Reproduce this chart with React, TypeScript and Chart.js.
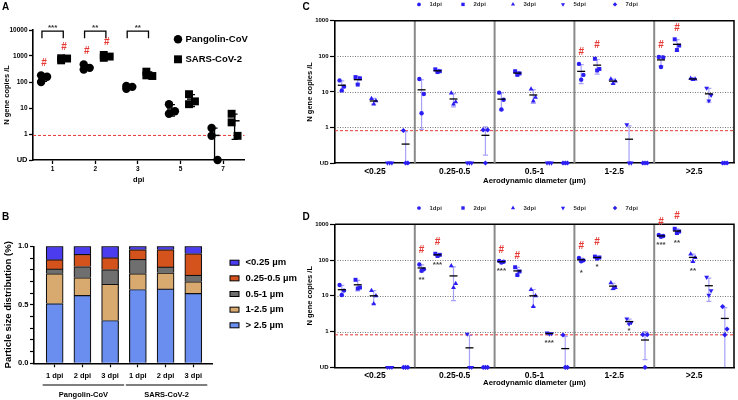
import React, { useEffect, useRef } from 'react';
import { Chart, registerables } from 'chart.js';
import { drawPoint } from 'chart.js/helpers';

Chart.register(...registerables);

const FONT = '"Liberation Sans", Arial, Helvetica, sans-serif';
Chart.defaults.font.family = FONT;
Chart.defaults.color = '#000';

const UD = 0.1; // "UD" (undetected) plotted at the axis floor

// ---------------- Panel A ----------------
const dpiA = ['1', '2', '3', '5', '7'];
const seriesNamesA = ['Pangolin-CoV', 'SARS-CoV-2'];
const pangolinA = [[180, 100, 160], [470, 300, 350], [55, 70, 65], [14, 6, 7.5], [1.7, 0.85, UD]];
const sarsA = [[680, 820, 800], [850, 1100, 950], [250, 180, 170], [34, 14, 18], [6, 2.8, 0.85]];
const yTicksA = [UD, 1, 10, 100, 1000, 10000];
const lodA = 0.88;
const hashA = [
  { cat: 0, s: 0, v: 550 },
  { cat: 0, s: 1, v: 2240 },
  { cat: 1, s: 0, v: 1590 },
  { cat: 1, s: 1, v: 3800 },
];
const sigA = [
  { cat: 0, text: '***' },
  { cat: 1, text: '**' },
  { cat: 2, text: '**' },
];
const sigLevelA = 9000;

// ---------------- Panel B ----------------
const barLabelsB = ['1 dpi', '2 dpi', '3 dpi', '1 dpi', '2 dpi', '3 dpi'];
const groupLabelsB = ['Pangolin-CoV', 'SARS-CoV-2'];
const segLabelsB = ['<0.25 µm', '0.25-0.5 µm', '0.5-1 µm', '1-2.5 µm', '> 2.5 µm'];
const segColorsB = ['#4b3cf0', '#d4531d', '#6f6f6f', '#d9aa70', '#6a8ef0'];
const segLt025 = [0.114, 0.068, 0.097, 0.028, 0.028, 0.062];
const seg025to05 = [0.079, 0.105, 0.102, 0.083, 0.148, 0.185];
const seg05to1 = [0.040, 0.094, 0.125, 0.122, 0.051, 0.054];
const seg1to25 = [0.256, 0.153, 0.310, 0.136, 0.137, 0.102];
const segGt25 = [0.511, 0.580, 0.366, 0.631, 0.636, 0.597];
const yMajorB = [0, 0.5, 1];

// ---------------- Panels C & D ----------------
const sizeGroups = ['<0.25', '0.25-0.5', '0.5-1', '1-2.5', '>2.5'];
const dpiSeries = ['1dpi', '2dpi', '3dpi', '5dpi', '7dpi'];
const yTicksCD = [UD, 1, 10, 100, 1000];
const refLinesCD = [1, 10, 100];
const lodCD = 0.81;

// C: [size group][replicate]
const c1dpi = [[21, 14, 11], [23, 8.7, 2.5], [9.5, 6, 3.2], [61, 30, 22], [95, 92, 50]];
const c2dpi = [[26, 24, 16], [43, 38, 36], [38, 33, 30], [85, 44, 40], [300, 200, 150]];
const c3dpi = [[6.5, 5.6, 4.5], [9.2, 5.2, 4.5], [12, 7, 5.5], [23, 20, 17], [24, 23, 22]];
const c5dpi = [[UD, UD, UD], [UD, UD, UD], [UD, UD, UD], [1.2, UD, UD], [12.8, 8, 5.6]];
const c7dpi = [[0.82, UD, UD], [0.85, 0.85, UD], [UD, UD, UD], [UD, UD, UD], [UD, UD, UD]];
const hashC = [
  { g: 3, d: 0, v: 136 },
  { g: 3, d: 1, v: 210 },
  { g: 4, d: 0, v: 210 },
  { g: 4, d: 1, v: 660 },
];

// D
const d1dpi = [[20, 14, 10.5], [75, 55, 50], [95, 90, 85], [115, 98, 92], [500, 470, 450]];
const d2dpi = [[28, 17, 16], [150, 140, 130], [63, 48, 38], [125, 118, 110], [750, 630, 570]];
const d3dpi = [[14, 10, 6], [69, 22, 17], [15, 10, 5], [23, 17, 16], [147, 118, 91]];
const d5dpi = [[UD, UD, UD], [0.85, UD, UD], [0.92, 0.88, 0.85], [2.27, 1.8, 1.64], [33, 14, 10.4]];
const d7dpi = [[UD, UD, UD], [UD, UD, UD], [0.8, UD, UD], [0.82, 0.82, UD], [5, 1.17, 0.81]];
const hashD = [
  { g: 1, d: 0, v: 194 },
  { g: 1, d: 1, v: 332 },
  { g: 2, d: 0, v: 194 },
  { g: 2, d: 1, v: 132 },
  { g: 3, d: 0, v: 251 },
  { g: 3, d: 1, v: 332 },
  { g: 4, d: 0, v: 1200 },
  { g: 4, d: 1, v: 1740 },
];
const starsD = [
  { g: 1, d: 0, v: 33, t: '**' },
  { g: 1, d: 1, v: 86, t: '***' },
  { g: 2, d: 0, v: 57, t: '***' },
  { g: 2, d: 3, v: 0.56, t: '***' },
  { g: 3, d: 0, v: 53, t: '*' },
  { g: 3, d: 1, v: 75, t: '*' },
  { g: 3, d: 3, v: 1.25, t: '*' },
  { g: 4, d: 0, v: 305, t: '***' },
  { g: 4, d: 1, v: 355, t: '**' },
  { g: 4, d: 2, v: 57, t: '**' },
];

// ---------------- helpers ----------------
const BLUE = '#2b1ef2';
const RED = '#e53935';

type EBItem = { x: number; values: number[] };
type EBStyle = { meanHalf: number; capHalf: number; whisker: string; mean: string; lw: number; meanLw: number };

function stats(values: number[]) {
  const n = values.length;
  const m = values.reduce((a, b) => a + b, 0) / n;
  const sd = n > 1 ? Math.sqrt(values.reduce((a, b) => a + (b - m) * (b - m), 0) / (n - 1)) : 0;
  return { m, sd };
}

function errorBarPlugin(id: string, items: EBItem[], st: EBStyle) {
  return {
    id,
    beforeDatasetsDraw(chart: any) {
      const { ctx, chartArea, scales } = chart;
      const x = scales.x;
      const y = scales.y;
      ctx.save();
      ctx.strokeStyle = st.whisker;
      ctx.lineWidth = st.lw;
      for (const it of items) {
        if (it.values.every((v) => v <= UD)) continue;
        const { m, sd } = stats(it.values);
        if (sd <= 0) continue;
        const px = x.getPixelForValue(it.x);
        const hi = y.getPixelForValue(m + sd);
        const lowV = m - sd;
        const lo = lowV > y.min ? y.getPixelForValue(lowV) : chartArea.bottom;
        ctx.beginPath();
        ctx.moveTo(px, hi);
        ctx.lineTo(px, lo);
        ctx.moveTo(px - st.capHalf, hi);
        ctx.lineTo(px + st.capHalf, hi);
        if (lowV > y.min) {
          ctx.moveTo(px - st.capHalf, lo);
          ctx.lineTo(px + st.capHalf, lo);
        }
        ctx.stroke();
      }
      ctx.restore();
    },
    afterDatasetsDraw(chart: any) {
      const { ctx, scales } = chart;
      const x = scales.x;
      const y = scales.y;
      ctx.save();
      ctx.strokeStyle = st.mean;
      ctx.lineWidth = st.meanLw;
      for (const it of items) {
        if (it.values.every((v) => v <= UD)) continue;
        const { m } = stats(it.values);
        const px = x.getPixelForValue(it.x);
        const py = y.getPixelForValue(m);
        ctx.beginPath();
        ctx.moveTo(px - st.meanHalf, py);
        ctx.lineTo(px + st.meanHalf, py);
        ctx.stroke();
      }
      ctx.restore();
    },
  };
}

function drawStars(ctx: CanvasRenderingContext2D, text: string, x: number, y: number, size: number, color: string) {
  ctx.font = `bold ${size}px ${FONT}`;
  ctx.textAlign = 'center';
  ctx.textBaseline = 'alphabetic';
  ctx.fillStyle = color;
  ctx.fillText(text, x, y + 0.58 * size);
}

function drawHash(ctx: CanvasRenderingContext2D, x: number, y: number, size: number) {
  ctx.font = `bold ${size}px ${FONT}`;
  ctx.textAlign = 'center';
  ctx.textBaseline = 'alphabetic';
  ctx.fillStyle = RED;
  ctx.fillText('#', x, y + 0.36 * size);
}

function drawLetter(ctx: CanvasRenderingContext2D, letter: string, x: number, y: number) {
  ctx.font = `bold 10px ${FONT}`;
  ctx.textAlign = 'left';
  ctx.textBaseline = 'top';
  ctx.fillStyle = '#000';
  ctx.fillText(letter, x, y);
}

const isClose = (a: number, b: number) => Math.abs(a - b) < 1e-6;

// ---------------- Panel A ----------------
function PanelA() {
  const ref = useRef<HTMLCanvasElement>(null);
  useEffect(() => {
    const offs = [-0.2, 0.27];
    const jit = [-0.07, -0.07, 0.07];
    const series = [pangolinA, sarsA];
    const items: EBItem[] = [];
    series.forEach((ser, si) => ser.forEach((vals, ci) => items.push({ x: ci + offs[si], values: vals })));
    const eb = errorBarPlugin('ebA', items, { meanHalf: 5, capHalf: 3, whisker: '#000', mean: '#000', lw: 1.3, meanLw: 1.5 });
    const styles = ['circle', 'rect'];
    const radii = [4.2, 5.6];
    const annot = {
      id: 'annotA',
      beforeDatasetsDraw(chart: any) {
        const { ctx, chartArea, scales } = chart;
        const py = scales.y.getPixelForValue(lodA);
        ctx.save();
        ctx.strokeStyle = RED;
        ctx.lineWidth = 1;
        ctx.setLineDash([3, 2]);
        ctx.beginPath();
        ctx.moveTo(chartArea.left, py);
        ctx.lineTo(chartArea.right, py);
        ctx.stroke();
        ctx.restore();
      },
      afterDraw(chart: any) {
        const { ctx, chartArea, scales } = chart;
        const x = scales.x;
        const y = scales.y;
        ctx.save();
        // significance brackets
        for (const s of sigA) {
          const x1 = x.getPixelForValue(s.cat - 0.25);
          const x2 = x.getPixelForValue(s.cat + 0.25);
          const yb = y.getPixelForValue(sigLevelA);
          ctx.strokeStyle = '#000';
          ctx.lineWidth = 1.3;
          ctx.beginPath();
          ctx.moveTo(x1, yb + 7);
          ctx.lineTo(x1, yb);
          ctx.lineTo(x2, yb);
          ctx.lineTo(x2, yb + 7);
          ctx.stroke();
          drawStars(ctx, s.text, (x1 + x2) / 2, yb - 6, 8, '#333');
        }
        for (const h of hashA) {
          drawHash(ctx, x.getPixelForValue(h.cat + offs[h.s]), y.getPixelForValue(h.v), 10);
        }
        // legend
        seriesNamesA.forEach((name, i) => {
          const mx = chartArea.left + 145;
          const my = chartArea.top + 9.3 + 20 * i;
          ctx.fillStyle = '#000';
          drawPoint(ctx, { pointStyle: styles[i], rotation: 0, radius: radii[i], borderWidth: 0 } as any, mx, my);
          ctx.font = `bold 9.5px ${FONT}`;
          ctx.textAlign = 'left';
          ctx.textBaseline = 'middle';
          ctx.fillStyle = '#000';
          ctx.fillText(name, mx + 7.5, my);
        });
        drawLetter(ctx, 'A', 2, 2);
        ctx.restore();
      },
    };
    const chart = new Chart(ref.current as HTMLCanvasElement, {
      type: 'scatter',
      data: {
        datasets: series.map((ser, si) => ({
          label: seriesNamesA[si],
          data: ser.flatMap((vals, ci) => vals.map((v, ri) => ({ x: ci + offs[si] + jit[ri], y: v }))),
          pointStyle: styles[si],
          pointRadius: radii[si],
          backgroundColor: '#000',
          borderColor: '#000',
          borderWidth: 0,
          clip: false,
        })),
      } as any,
      options: {
        responsive: false,
        animation: false,
        events: [],
        layout: { padding: { top: 30, right: 2, left: 0, bottom: 0 } },
        plugins: { legend: { display: false }, tooltip: { enabled: false } },
        scales: {
          x: {
            type: 'linear',
            min: -0.46,
            max: 4.5,
            afterBuildTicks: (s: any) => {
              s.ticks = dpiA.map((_, i) => ({ value: i }));
            },
            afterFit: (s: any) => {
              s.height = 30;
            },
            ticks: {
              callback: (v: any) => dpiA[Math.round(v)] ?? '',
              font: { family: FONT, size: 6.5, weight: 'bold' },
              color: '#000',
              padding: 1.4,
              maxRotation: 0,
              autoSkip: false,
            },
            grid: { display: true, drawOnChartArea: false, tickLength: 4, tickColor: '#000', tickWidth: 1.3 },
            border: { display: true, color: '#000', width: 1.6 },
            title: { display: true, text: 'dpi', font: { family: FONT, size: 7.5, weight: 'bold' }, color: '#000', padding: { top: 0, bottom: 5.5 } },
          },
          y: {
            type: 'logarithmic',
            min: UD,
            max: 10000,
            afterBuildTicks: (s: any) => {
              s.ticks = yTicksA.map((v) => ({ value: v }));
            },
            afterFit: (s: any) => {
              s.width = 33;
            },
            ticks: {
              callback: (v: any) => (isClose(v, UD) ? 'UD' : String(v)),
              font: (c: any) => ({ family: FONT, size: c.tick && isClose(c.tick.value, UD) ? 7.5 : 6.5, weight: 'bold' }),
              color: '#000',
              padding: 1.5,
              autoSkip: false,
            },
            grid: { display: true, drawOnChartArea: false, tickLength: 4, tickColor: '#000', tickWidth: 1.3 },
            border: { display: true, color: '#000', width: 1.6 },
            title: { display: true, text: 'N gene copies /L', font: { family: FONT, size: 7.5, weight: 'bold' }, color: '#000', padding: { top: 2.2, bottom: 0 } },
          },
        },
      } as any,
      plugins: [annot, eb] as any,
    });
    return () => chart.destroy();
  }, []);
  return <canvas ref={ref} width={250} height={190} style={{ position: 'absolute', left: 0, top: 0, width: 250, height: 190 }} />;
}

// ---------------- Panel B ----------------
function PanelB() {
  const ref = useRef<HTMLCanvasElement>(null);
  useEffect(() => {
    const segValues = [segLt025, seg025to05, seg05to1, seg1to25, segGt25];
    const order = [4, 3, 2, 1, 0]; // bottom of the stack first
    const annot = {
      id: 'annotB',
      afterDraw(chart: any) {
        const { ctx, chartArea, scales } = chart;
        const x = scales.x;
        ctx.save();
        // group lines and labels
        groupLabelsB.forEach((label, g) => {
          const x1 = x.getPixelForValue(g * 3) - 12;
          const x2 = x.getPixelForValue(g * 3 + 2) + 14;
          const yl = chartArea.bottom + 21.7;
          ctx.strokeStyle = '#000';
          ctx.lineWidth = 1.2;
          ctx.beginPath();
          ctx.moveTo(x1, yl);
          ctx.lineTo(x2, yl);
          ctx.stroke();
          ctx.font = `bold 7.5px ${FONT}`;
          ctx.textAlign = 'center';
          ctx.textBaseline = 'middle';
          ctx.fillStyle = '#000';
          ctx.fillText(label, (x1 + x2) / 2, chartArea.bottom + 31.7);
        });
        // legend
        segLabelsB.forEach((label, i) => {
          const bx = chartArea.right + 17.3;
          const cy = chartArea.top + 16.4 + 15.65 * i;
          ctx.fillStyle = segColorsB[i];
          ctx.fillRect(bx, cy - 2.5, 9, 5);
          ctx.strokeStyle = '#000';
          ctx.lineWidth = 1;
          ctx.strokeRect(bx, cy - 2.5, 9, 5);
          ctx.font = `bold 9.5px ${FONT}`;
          ctx.textAlign = 'left';
          ctx.textBaseline = 'middle';
          ctx.fillStyle = '#000';
          ctx.fillText(label, bx + 15.5, cy);
        });
        drawLetter(ctx, 'B', 2, 22.5);
        ctx.restore();
      },
    };
    const chart = new Chart(ref.current as HTMLCanvasElement, {
      type: 'bar',
      data: {
        datasets: order.map((k) => ({
          label: segLabelsB[k],
          data: segValues[k].map((v, i) => ({ x: i, y: v })),
          backgroundColor: segColorsB[k],
          borderColor: '#111',
          borderWidth: 1.2,
          barThickness: 17,
          stack: 'a',
        })),
      } as any,
      options: {
        responsive: false,
        animation: false,
        events: [],
        layout: { padding: { top: 56.3, right: 87.3, left: 0, bottom: 0 } },
        plugins: { legend: { display: false }, tooltip: { enabled: false } },
        scales: {
          x: {
            type: 'linear',
            offset: false,
            min: -0.745,
            max: 5.7,
            afterBuildTicks: (s: any) => {
              s.ticks = barLabelsB.map((_, i) => ({ value: i }));
            },
            afterFit: (s: any) => {
              s.height = 36.7;
            },
            ticks: {
              callback: (v: any) => barLabelsB[Math.round(v)] ?? '',
              font: { family: FONT, size: 7.5, weight: 'bold' },
              color: '#000',
              padding: 4.2,
              maxRotation: 0,
              autoSkip: false,
            },
            grid: { display: true, offset: false, drawOnChartArea: false, tickLength: 4, tickColor: '#000', tickWidth: 1.2 },
            border: { display: true, color: '#000', width: 1.6 },
          },
          y: {
            type: 'linear',
            stacked: true,
            min: 0,
            max: 1,
            afterFit: (s: any) => {
              s.width = 34;
            },
            ticks: {
              stepSize: 0.1,
              callback: (v: any) => (yMajorB.some((m) => isClose(m, v)) ? Number(v).toFixed(1) : ''),
              font: { family: FONT, size: 7.5, weight: 'bold' },
              color: '#000',
              padding: 1.5,
              autoSkip: false,
            },
            grid: { display: true, drawOnChartArea: false, tickLength: 4, tickColor: '#000', tickWidth: 1.2 },
            border: { display: true, color: '#000', width: 1.6 },
            title: { display: true, text: 'Particle size distribution (%)', font: { family: FONT, size: 9.5, weight: 'bold' }, color: '#000', padding: { top: 2.3, bottom: 0 } },
          },
        },
      } as any,
      plugins: [annot] as any,
    });
    return () => chart.destroy();
  }, []);
  return <canvas ref={ref} width={300} height={210} style={{ position: 'absolute', left: 0, top: 190, width: 300, height: 210 }} />;
}

// ---------------- Panels C / D ----------------
type Geo = { top: number; height: number; padTop: number; xH: number; xLabelPad: number; xTitlePad: number; letterY: number };

function PanelCD(props: { id: string; letter: string; seriesData: number[][][]; hashes: { g: number; d: number; v: number }[]; stars: { g: number; d: number; v: number; t: string }[]; geo: Geo }) {
  const ref = useRef<HTMLCanvasElement>(null);
  const { id, letter, seriesData, hashes, stars, geo } = props;
  useEffect(() => {
    const subX = (g: number, d: number) => g + 0.085 + 0.2 * d;
    const jit = [-0.028, 0.028, 0];
    const styles = ['circle', 'rect', 'triangle', 'triangle', 'rectRot'];
    const rots = [0, 0, 0, 180, 0];
    const radii = [2.2, 2.8, 2.8, 2.8, 2.6];
    const legendOffsets = [84, 128, 178, 228, 280];
    const items: EBItem[] = [];
    seriesData.forEach((ser, d) => ser.forEach((vals, g) => items.push({ x: subX(g, d), values: vals })));
    const eb = errorBarPlugin('eb' + id, items, {
      meanHalf: 4,
      capHalf: 2.5,
      whisker: 'rgba(110,100,245,0.6)',
      mean: '#000',
      lw: 1.2,
      meanLw: 1.3,
    });
    const bg = {
      id: 'bg' + id,
      beforeDatasetsDraw(chart: any) {
        const { ctx, chartArea, scales } = chart;
        const x = scales.x;
        const y = scales.y;
        ctx.save();
        ctx.strokeStyle = '#777';
        ctx.lineWidth = 1;
        ctx.setLineDash([1, 1.5]);
        for (const v of refLinesCD) {
          const py = Math.round(y.getPixelForValue(v)) + 0.5;
          ctx.beginPath();
          ctx.moveTo(chartArea.left, py);
          ctx.lineTo(chartArea.right, py);
          ctx.stroke();
        }
        ctx.strokeStyle = RED;
        ctx.setLineDash([3, 2]);
        const pl = y.getPixelForValue(lodCD);
        ctx.beginPath();
        ctx.moveTo(chartArea.left, pl);
        ctx.lineTo(chartArea.right, pl);
        ctx.stroke();
        ctx.setLineDash([]);
        ctx.strokeStyle = '#8a8a8a';
        ctx.lineWidth = 2;
        for (let g = 1; g < sizeGroups.length; g++) {
          const px = x.getPixelForValue(g);
          ctx.beginPath();
          ctx.moveTo(px, chartArea.top);
          ctx.lineTo(px, chartArea.bottom);
          ctx.stroke();
        }
        ctx.restore();
      },
      afterDraw(chart: any) {
        const { ctx, chartArea, scales } = chart;
        const x = scales.x;
        const y = scales.y;
        ctx.save();
        // frame
        ctx.strokeStyle = '#000';
        ctx.lineWidth = 1.5;
        ctx.beginPath();
        ctx.moveTo(chartArea.left, chartArea.top);
        ctx.lineTo(chartArea.right, chartArea.top);
        ctx.lineTo(chartArea.right, chartArea.bottom);
        ctx.stroke();
        for (const h of hashes) drawHash(ctx, x.getPixelForValue(subX(h.g, h.d)), y.getPixelForValue(h.v), 10);
        for (const s of stars) drawStars(ctx, s.t, x.getPixelForValue(subX(s.g, s.d)), y.getPixelForValue(s.v), 8, '#444');
        // legend
        dpiSeries.forEach((name, k) => {
          const mx = chartArea.left + legendOffsets[k];
          const my = chartArea.top - 16.3;
          ctx.fillStyle = BLUE;
          drawPoint(ctx, { pointStyle: styles[k], rotation: rots[k], radius: radii[k] * 0.85, borderWidth: 0 } as any, mx, my);
          ctx.font = `bold 6px ${FONT}`;
          ctx.textAlign = 'left';
          ctx.textBaseline = 'middle';
          ctx.fillStyle = '#333';
          ctx.fillText(name, mx + 10.5, my);
        });
        drawLetter(ctx, letter, 6.5, geo.letterY);
        ctx.restore();
      },
    };
    const chart = new Chart(ref.current as HTMLCanvasElement, {
      type: 'scatter',
      data: {
        datasets: seriesData.map((ser, d) => ({
          label: dpiSeries[d],
          data: ser.flatMap((vals, g) => vals.map((v, r) => ({ x: subX(g, d) + jit[r], y: v }))),
          pointStyle: styles[d],
          pointRotation: rots[d],
          pointRadius: radii[d],
          backgroundColor: BLUE,
          borderColor: BLUE,
          borderWidth: 0,
          clip: false,
        })),
      } as any,
      options: {
        responsive: false,
        animation: false,
        events: [],
        layout: { padding: { top: geo.padTop, right: 1, left: 0, bottom: 0 } },
        plugins: { legend: { display: false }, tooltip: { enabled: false } },
        scales: {
          x: {
            type: 'linear',
            min: 0,
            max: sizeGroups.length,
            afterBuildTicks: (s: any) => {
              s.ticks = sizeGroups.map((_, i) => ({ value: i + 0.5 }));
            },
            afterFit: (s: any) => {
              s.height = geo.xH;
            },
            ticks: {
              callback: (v: any) => sizeGroups[Math.round(v - 0.5)] ?? '',
              font: { family: FONT, size: 8.5, weight: 'bold' },
              color: '#000',
              padding: geo.xLabelPad,
              maxRotation: 0,
              autoSkip: false,
            },
            grid: { display: false, drawTicks: false },
            border: { display: true, color: '#000', width: 1.6 },
            title: { display: true, text: 'Aerodynamic diameter (µm)', font: { family: FONT, size: 7.8, weight: 'bold' }, color: '#000', padding: { top: 0, bottom: geo.xTitlePad } },
          },
          y: {
            type: 'logarithmic',
            min: UD,
            max: 1000,
            afterBuildTicks: (s: any) => {
              s.ticks = yTicksCD.map((v) => ({ value: v }));
            },
            afterFit: (s: any) => {
              s.width = 39;
            },
            ticks: {
              callback: (v: any) => (isClose(v, UD) ? 'UD' : String(v)),
              font: { family: FONT, size: 6, weight: 'bold' },
              color: '#000',
              padding: 1.5,
              autoSkip: false,
            },
            grid: { display: true, drawOnChartArea: false, tickLength: 5, tickColor: '#000', tickWidth: 1.2 },
            border: { display: true, color: '#000', width: 1.6 },
            title: { display: true, text: 'N gene copies /L', font: { family: FONT, size: 7.5, weight: 'bold' }, color: '#000', padding: { top: 9.5, bottom: 0 } },
          },
        },
      } as any,
      plugins: [bg, eb] as any,
    });
    return () => chart.destroy();
  }, []);
  return <canvas ref={ref} width={442} height={geo.height} style={{ position: 'absolute', left: 296, top: geo.top, width: 442, height: geo.height }} />;
}

const geoC: Geo = { top: 0, height: 190, padTop: 20.7, xH: 27, xLabelPad: 3.9, xTitlePad: 4.3, letterY: 2.7 };
const geoD: Geo = { top: 190, height: 210, padTop: 34.3, xH: 32.7, xLabelPad: 3.1, xTitlePad: 12, letterY: 22.7 };

export default function App() {
  return (
    <div style={{ position: 'fixed', left: 0, top: 0, width: 738, height: 400, background: '#fff', overflow: 'hidden' }}>
      <PanelA />
      <PanelB />
      <PanelCD id="C" letter="C" seriesData={[c1dpi, c2dpi, c3dpi, c5dpi, c7dpi]} hashes={hashC} stars={[]} geo={geoC} />
      <PanelCD id="D" letter="D" seriesData={[d1dpi, d2dpi, d3dpi, d5dpi, d7dpi]} hashes={hashD} stars={starsD} geo={geoD} />
    </div>
  );
}
